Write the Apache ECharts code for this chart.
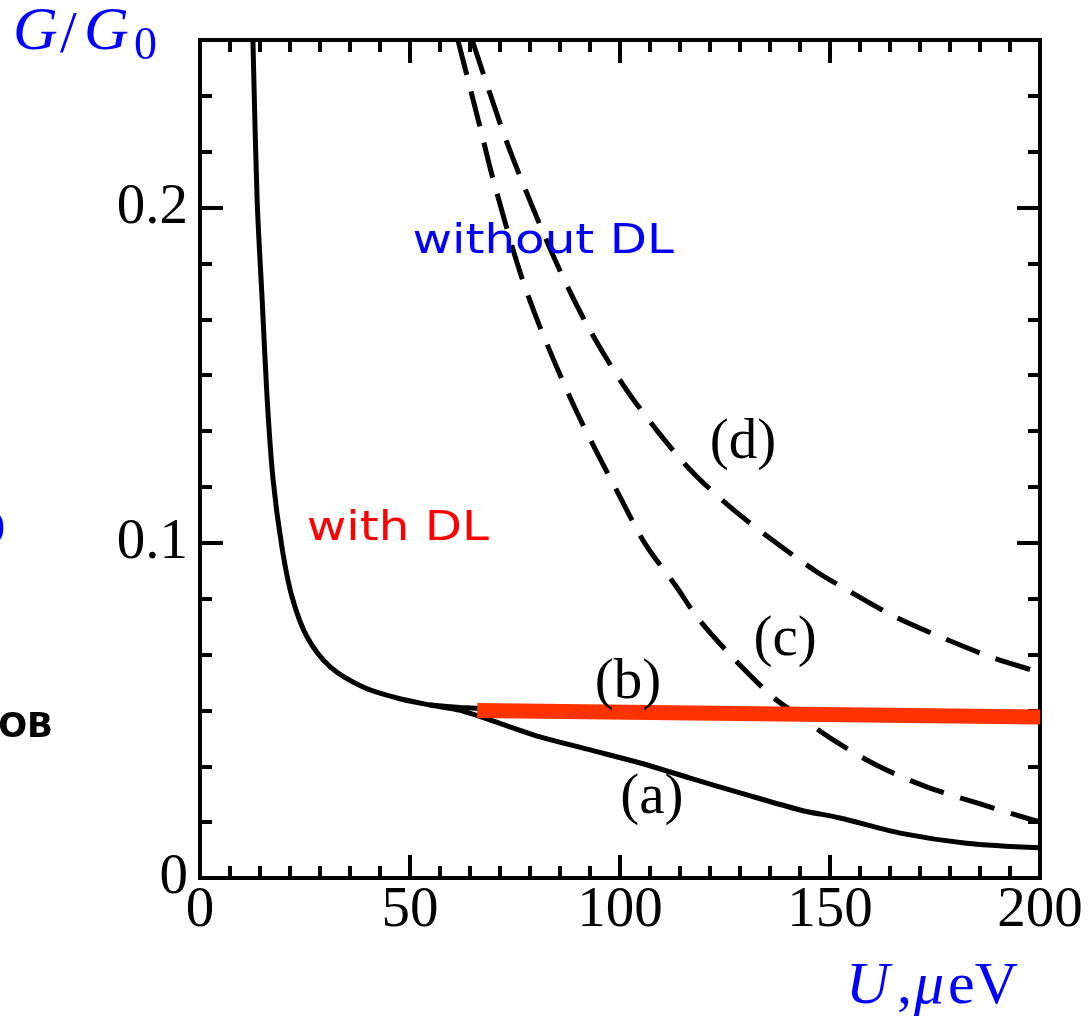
<!DOCTYPE html>
<html>
<head>
<meta charset="utf-8">
<script src="https://cdn.jsdelivr.net/npm/echarts@6/dist/echarts.min.js"></script>
<style>
html,body{margin:0;padding:0;background:#fff;}
#chart{width:1088px;height:1017px;}
</style>
</head>
<body>
<div id="chart"></div>
<script>
// ---- data (U in µeV, G/G0) ----
const curveA = [[12.6,0.250],[13.6,0.2024],[14.8,0.1725],[16.0,0.1427],[17.4,0.1188],[19.5,0.0988],[21.9,0.0839],[25.5,0.0719],[31.0,0.0630],[38.8,0.0570],[46.9,0.0537],[54.8,0.0516],[62,0.0500],[73.1,0.0454],[81,0.0421],[92.9,0.0382],[104.8,0.0343],[116.7,0.0298],[128.6,0.0254],[142.9,0.0203],[152.4,0.0179],[166.7,0.0134],[182.5,0.0104],[200,0.0090]];
const curveB = [[54.8,0.0516],[62,0.0509],[70,0.0503],[100,0.0497],[150,0.0488],[200,0.0481]];
const curveC = [[61.4,0.250],[66.7,0.2239],[69.8,0.2084],[76.0,0.1815],[81.2,0.1636],[89.8,0.1388],[100,0.1137],[106,0.0997],[113.6,0.0866],[118.3,0.0779],[126.9,0.0657],[136.4,0.0540],[142.9,0.0481],[150,0.0418],[161,0.0337],[173,0.0272],[185,0.0224],[198.3,0.0173],[200,0.0167]];
const curveD = [[64.8,0.250],[71.7,0.2242],[76.2,0.2093],[84.5,0.1845],[92.1,0.1651],[100.7,0.1472],[108.3,0.1343],[116.7,0.1218],[126.2,0.1107],[136.2,0.1009],[146.9,0.0913],[154,0.0860],[165.5,0.0779],[176.9,0.0716],[188.8,0.0657],[199.5,0.0615],[200,0.0613]];
const withDL = [[66,0.0500],[200,0.0480]];

const xTickValues = [0,50,100,150,200];
const yTickValues = [0,0.1,0.2];
const yTickLabels = ['0','0.1','0.2'];

const annotTexts = ['(a)','(b)','(c)','(d)'];
const annotU = [107.6,101.9,139.3,129.3];
const annotG = [0.0239,0.0582,0.0710,0.1299];

const chart = echarts.init(document.getElementById('chart'));
const serif = '"Liberation Serif", "Times New Roman", serif';
const LW = 4;
function tickAxis(kind, pos, interval, len, withLine, labels){
  const a = {type:'value',position:pos,min:0,max:kind==='x'?200:0.25,interval:interval,
    axisLine:{show:withLine,onZero:false,lineStyle:{color:'#000',width:LW,cap:'square'}},
    splitLine:{show:false},
    axisTick:{show:true,inside:true,length:len,lineStyle:{color:'#000',width:LW}},
    axisLabel:{show:false}};
  if(labels) a.axisLabel = labels;
  return a;
}
function yLabel(v){
  for(let i=0;i<yTickValues.length;i++){ if(Math.abs(v-yTickValues[i])<1e-9) return yTickLabels[i]; }
  return '';
}
function xLabel(v){ return xTickValues.indexOf(v)>=0?String(v):''; }
const option = {
  animation:false,
  backgroundColor:'#fff',
  grid:{left:200,right:48,top:40,bottom:139,containLabel:false,outerBoundsMode:'none'},
  xAxis:[
    tickAxis('x','bottom',50,23,true,{show:true,margin:5,color:'#000',fontFamily:serif,fontSize:57,formatter:xLabel}),
    tickAxis('x','top',50,23,true,null),
    tickAxis('x','bottom',50/7,12,false,null),
    tickAxis('x','top',50/7,12,false,null)
  ],
  yAxis:[
    tickAxis('y','left',0.1,23,true,{show:true,margin:12,color:'#000',fontFamily:serif,fontSize:57,formatter:yLabel}),
    tickAxis('y','left',1/60,12,false,null),
    tickAxis('y','right',0.1,23,true,null),
    tickAxis('y','right',1/60,12,false,null)
  ],
  series:[
    {name:'(a)',type:'line',data:curveA,showSymbol:false,smooth:0.3,
      lineStyle:{color:'#000',width:5},z:3},
    {name:'(b)',type:'line',data:curveB,showSymbol:false,smooth:0.3,
      lineStyle:{color:'#000',width:5},z:3},
    {name:'(c)',type:'line',data:curveC,showSymbol:false,smooth:0.3,
      lineStyle:{color:'#000',width:5,type:[36,17]},z:3},
    {name:'(d)',type:'line',data:curveD,showSymbol:false,smooth:0.3,
      lineStyle:{color:'#000',width:5,type:[36,17]},z:3},
    {name:'with DL',type:'line',data:withDL,showSymbol:false,
      lineStyle:{color:'#ff3300',width:15,cap:'butt'},z:5}
  ]
};
chart.setOption(option);

const px = (u,g)=>chart.convertToPixel({xAxisIndex:0,yAxisIndex:0},[u,g]);
const graphics = [];
for(let i=0;i<annotTexts.length;i++){
  const p = px(annotU[i],annotG[i]);
  graphics.push({type:'text',x:p[0],y:p[1],z:10,style:{text:annotTexts[i],fill:'#000',
    font:'57px '+serif,align:'center',verticalAlign:'middle'}});
}
const pw = px(81.7,0.1896);
graphics.push({type:'text',x:pw[0],y:pw[1],scaleX:1.18,z:10,style:{text:'without DL',fill:'#0000ff',
  font:'41px "DejaVu Sans", sans-serif',align:'center',verticalAlign:'middle'}});
const pd = px(47.1,0.1039);
graphics.push({type:'text',x:pd[0],y:pd[1],scaleX:1.18,z:10,style:{text:'with DL',fill:'#ff0000',
  font:'41px "DejaVu Sans", sans-serif',align:'center',verticalAlign:'middle'}});
// axis titles
function blue(txt,x,y,font){
  graphics.push({type:'text',x:x,y:y,z:10,style:{text:txt,fill:'#0000ff',font:font,align:'left',verticalAlign:'middle'}});
}
blue('G',13,33,'italic 62px '+serif);
blue('/',60,36,'60px '+serif);
blue('G',84,33,'italic 62px '+serif);
blue('0',134,47,'46px '+serif);
blue('U',846,987,'italic 60px '+serif);
blue(',',897,987,'60px '+serif);
blue('μ',914,987,'italic 60px '+serif);
blue('eV',948,987,'60px '+serif);
// cropped fragments at left edge
graphics.push({type:'text',x:5,y:530,z:10,style:{text:'0',fill:'#0000ff',
  font:'44px '+serif,align:'right',verticalAlign:'middle'}});
graphics.push({type:'text',x:53,y:728,z:10,style:{text:'OB',fill:'#000',
  font:'bold 34px "DejaVu Sans", sans-serif',align:'right',verticalAlign:'middle'}});
chart.setOption({graphic:graphics});
</script>
</body>
</html>
